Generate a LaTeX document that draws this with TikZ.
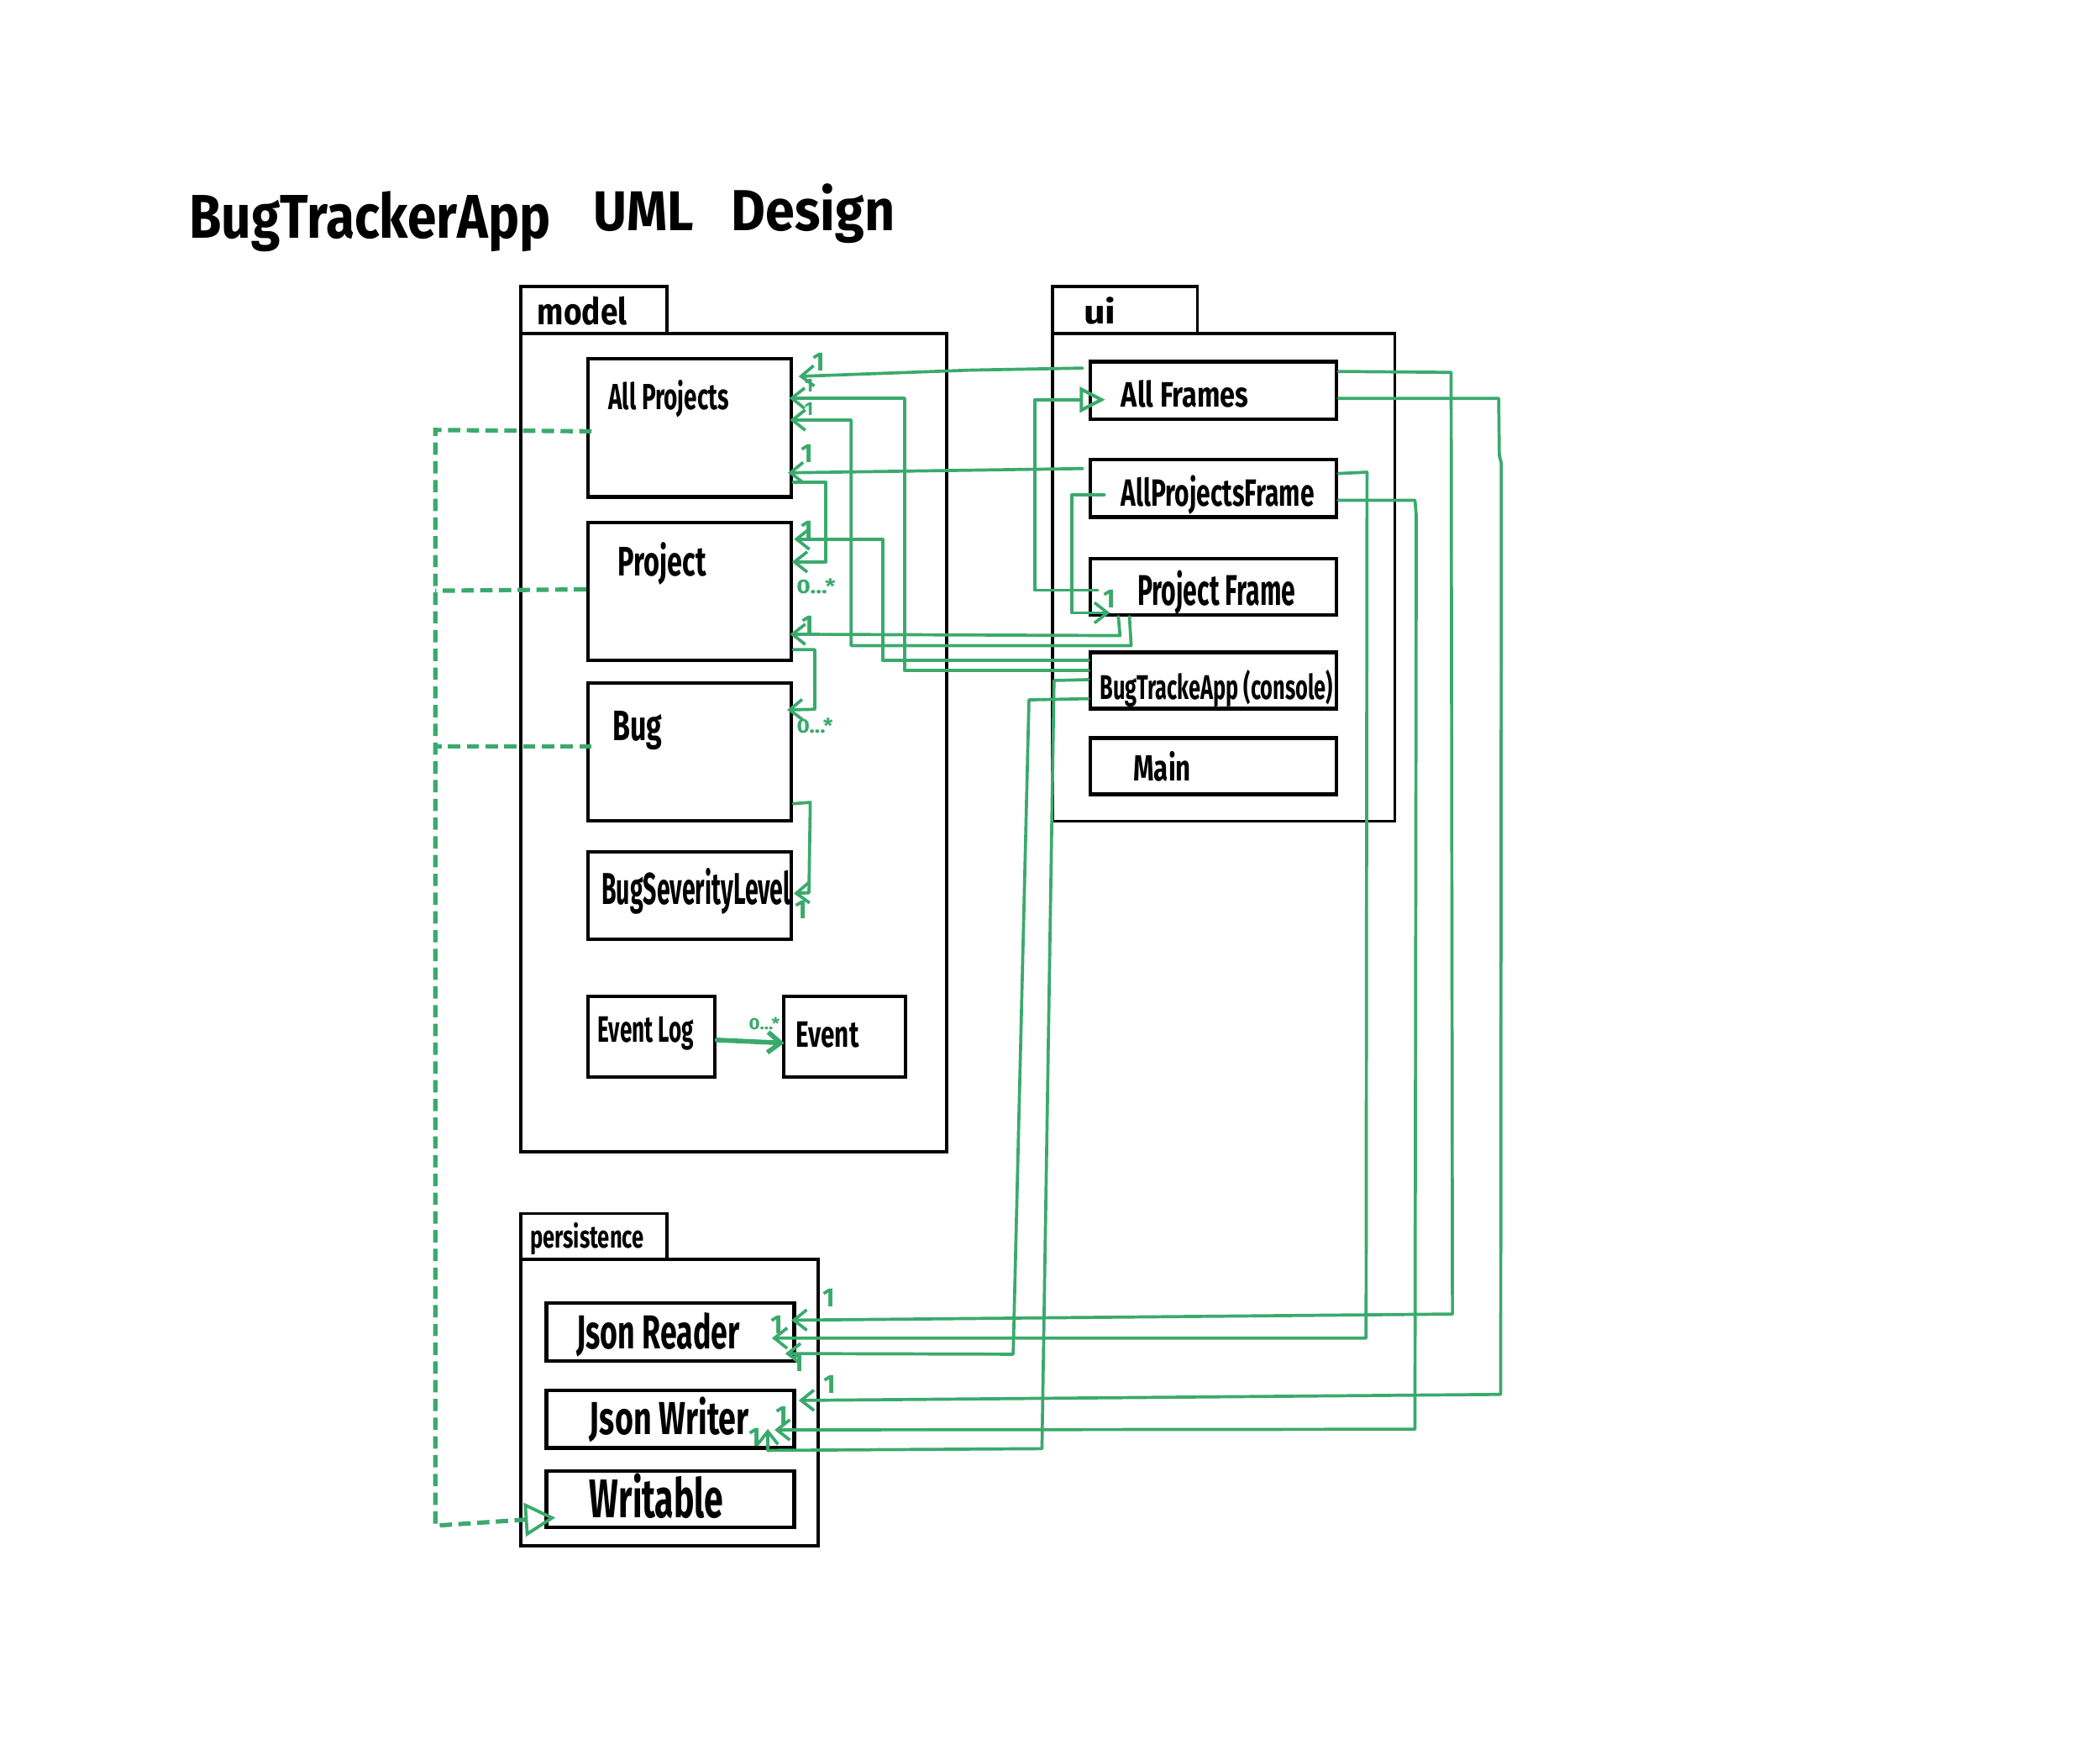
\documentclass[tikz,border=0pt]{standalone}
\usepackage{fontspec}
\setmainfont{Fira Sans}
\newfontfamily\handfont{Fira Sans}
\usetikzlibrary{arrows.meta,calc}
\definecolor{umlgreen}{RGB}{58,170,108}
\newlength{\ulen}\setlength{\ulen}{0.25mm}
\newcommand{\fitbox}[3]{\resizebox{#1\ulen}{#2\ulen}{#3}}
\tikzset{
  cls/.style 2 args={draw=black, line width=1.85pt, minimum width=#1*0.25mm, minimum height=#2*0.25mm, inner sep=0pt},
  pkg/.style={draw=black, line width=1.6pt},
  hand/.style={inner sep=0pt, anchor=base west, font=\handfont\bfseries, text=black},
  conn/.style={draw=umlgreen, line width=1.65pt, line cap=round, line join=round},
  barb/.style={-{Straight Barb[length=2.4mm, width=3.8mm, line width=1.65pt]}},
  dashgreen/.style={draw=umlgreen, line width=2.3pt, dash pattern=on 2.3mm off 1.2mm},
  mult/.style={text=umlgreen, inner sep=0pt, font=\handfont\bfseries\fontsize{14}{14}\selectfont},
  smallmult/.style={text=umlgreen, inner sep=0pt, font=\handfont\bfseries\fontsize{10}{10}\selectfont},
  many/.style={text=umlgreen, inner sep=0pt, anchor=base west, font=\handfont\bfseries},
}
\begin{document}
\begin{tikzpicture}[x=0.25mm, y=-0.25mm]
\fill[white] (0,0) rectangle (1568,1310);
\useasboundingbox (0,0) rectangle (1568,1310);

% title
\node[hand] (t1) at (141,178) {\fitbox{270}{35}{BugTrackerApp}};
\node[hand] (t2) at (443,172) {\fitbox{75}{29}{UML}};
\node[hand] (t3) at (546,172) {\fitbox{122}{35}{Design}};

% packages
\draw[pkg] (389,214) rectangle (498,249);
\draw[pkg] (389,249) rectangle (707,860);
\draw[pkg] (786,214) rectangle (894,249);
\draw[pkg] (786,249) rectangle (1041.5,613);
\draw[pkg] (389,906) rectangle (498,940);
\draw[pkg] (389,940) rectangle (611,1154);
\node[hand] (modellbl) at (401,242.5) {\fitbox{67}{21}{model}};
\node[hand] (uilbl) at (809,241.5) {\fitbox{24}{20}{ui}};
\node[hand] (perslbl) at (395.6,932) {\fitbox{85}{19}{persistence}};

% classes: model
\node[cls={152}{103}] (allprojects) at (515,319.5) {};
\node[cls={152}{103}] (project) at (515,441.5) {};
\node[cls={152}{103}] (bug) at (515,561.5) {};
\node[cls={152}{65}] (bsl) at (515,668.5) {};
\node[cls={95}{60}] (eventlog) at (486.5,774) {};
\node[cls={91}{60}] (event) at (630.5,774) {};
% classes: ui
\node[cls={184}{43}] (allframes) at (906,291.5) {};
\node[cls={184}{43}] (allprojectsframe) at (906,364.5) {};
\node[cls={184}{42}] (projectframe) at (906,438) {};
\node[cls={184}{42}] (bugtracke) at (906,508) {};
\node[cls={184}{42}] (main) at (906,572) {};
% classes: persistence
\node[cls={185}{43}] (jsonreader) at (500.5,994.5) {};
\node[cls={185}{43}] (jsonwriter) at (500.5,1059.5) {};
\node[cls={185}{42}] (writable) at (500.5,1119) {};

% class names
\node[hand] (lallprojects) at (454,306) {\fitbox{90}{22}{All Projects}};
\node[hand] (lproject) at (461,430) {\fitbox{66}{25}{Project}};
\node[hand] (lbug) at (457,553) {\fitbox{37}{22}{Bug}};
\node[hand] (lbsl) at (449,675) {\fitbox{141}{27}{BugSeverityLevel}};
\node[hand] (leventlog) at (446,778) {\fitbox{72}{19}{Event Log}};
\node[hand] (levent) at (594,782) {\fitbox{47}{19}{Event}};
\node[hand] (lallframes) at (837,304) {\fitbox{95}{20}{All Frames}};
\node[hand] (lallprojectsframe) at (837,378) {\fitbox{144}{23}{AllProjectsFrame}};
\node[hand] (lprojectframe) at (849,452) {\fitbox{118}{26}{Project Frame}};
\node[hand] (lbugtracke) at (821,522) {\fitbox{174}{22}{BugTrackeApp (console)}};
\node[hand] (lmain) at (846,583) {\fitbox{43}{22}{Main}};
\node[hand] (ljsonreader) at (430,1007) {\fitbox{122}{27}{Json Reader}};
\node[hand] (ljsonwriter) at (440,1071) {\fitbox{119}{28}{Json Writer}};
\node[hand] (lwritable) at (440,1133) {\fitbox{100}{33}{Writable}};

% implementation of Writable (dashed)
\draw[dashgreen, -{Triangle[open,length=5.75mm,width=6.25mm,line width=1.7pt]}]
  ($(allprojects.west|-0,322)+(4,0)$) -- (325,321) -- (325,1139) -- ($(writable.west|-0,1133)+(8,0)$);
\draw[dashgreen] (project.west|-0,440) -- (325,441);
\draw[dashgreen] ($(bug.west|-0,557)+(4,0)$) -- (325,557);

% associations in model / ui
\draw[conn,barb] ($(allframes.west|-0,274.8)+(-4.3,0)$) -- (725,276.3) -- ($(allprojects.east|-0,281)+(4,0)$);
\draw[conn,barb] (bugtracke.west|-0,500.4) -- (675.5,500.4) -- (675.5,297.3) -- ($(allprojects.east|-0,297.3)+(-3,0)$);
\draw[conn,barb] ($(projectframe.south west)+(30.6,0)$) -- (844.6,482) -- (635.5,482) -- (635.5,313.6) -- ($(allprojects.east|-0,313.6)+(-2.5,0)$);
\draw[conn,barb] ($(allprojectsframe.west|-0,349.8)+(-4.3,0)$) -- ($(allprojects.east|-0,353)+(-4,0)$);
\draw[conn,barb] (allprojects.east|-0,360) -- (616.7,360) -- (616.7,419.5) -- ($(project.east|-0,419.5)+(-1,0)$);
\draw[conn,barb] (bugtracke.west|-0,493) -- (659,493) -- (659,402.5) -- ($(project.east|-0,402.5)+(0.6,0)$);
\draw[conn,barb] ($(projectframe.south west)+(22.3,0)$) -- (836.3,474.5) -- ($(project.east|-0,473.5)+(-2.5,0)$);
\draw[conn,barb] (project.east|-0,485) -- (608.4,485) -- (608.4,529.5) -- ($(bug.east|-0,530)+(-4.6,0)$);
\draw[conn,barb] (bug.east|-0,600) -- (605,599) -- (604,666.5) -- ($(bsl.east|-0,667)+(0.4,0)$);
\draw[conn,line width=2.5pt,-{Straight Barb[length=2.4mm,width=3.8mm,line width=2.5pt]}] (eventlog.east|-0,776.4) -- ($(event.west|-0,778.7)+(2,0)$);
\draw[conn,-{Triangle[open,length=4.75mm,width=4.75mm,line width=1.8pt]}] ($(projectframe.west|-0,440.6)+(7,0)$) -- (772.5,440.6) -- (772.5,298.4) -- ($(allframes.west|-0,298.4)+(12.5,0)$);
\draw[conn,barb] ($(allprojectsframe.west|-0,369.5)+(11.8,0)$) -- (800.4,369.5) -- (800.4,457.5) -- ($(projectframe.west|-0,457.5)+(16,0)$);

% associations to persistence
\draw[conn,barb] (bugtracke.west|-0,521.6) -- (768.3,522.5) -- (756.5,1011) -- ($(jsonreader.east|-0,1010.5)+(-8,0)$);
\draw[conn,barb] (bugtracke.west|-0,507.4) -- (787,508) -- (778,1081.5) -- ($(jsonwriter.south east)+(-21,0.5)$) -- ($(jsonwriter.south east)+(-21,-15.5)$);
\draw[conn,barb] (allframes.east|-0,277.3) -- (1083.5,278) -- (1084.5,981) -- ($(jsonreader.east|-0,985.6)+(-3.4,0)$);
\draw[conn,barb] (allframes.east|-0,297.4) -- (1119,297.4) -- (1119.5,340) -- (1121,346) -- (1120.5,1041) -- ($(jsonwriter.east|-0,1045.5)+(2,0)$);
\draw[conn,barb] (allprojectsframe.east|-0,353.5) -- (1020.7,352.5) -- (1020,999) -- ($(jsonreader.east|-0,999)+(-18,0)$);
\draw[conn,barb] (allprojectsframe.east|-0,373.5) -- (1056.5,373.5) -- (1057.5,385) -- (1056.5,1067) -- ($(jsonwriter.east|-0,1067.5)+(-16,0)$);

% multiplicities
\node[mult] (m1) at (611.5,270.5) {1};
\node[smallmult] (m2) at (604,288) {1};
\node[smallmult] (m3) at (604,305.5) {1};
\node[mult] (m4) at (602.5,338.6) {1};
\node[mult] (m6) at (602.5,396) {1};
\node[mult] (m7) at (603,466.5) {1};
\node[mult] (m9) at (598,679) {1};
\node[mult] (m12) at (828.3,447) {1};
\node[mult] (m15) at (619,969) {1};
\node[mult] (m17) at (580,989) {1};
\node[mult] (m13) at (596,1017) {1};
\node[mult] (m16) at (619.5,1033.5) {1};
\node[mult] (m18) at (584,1057) {1};
\node[mult] (m14) at (564,1073) {1};
\node[many] (n5) at (594.6,443) {\fitbox{29}{11}{0...*}};
\node[many] (n8) at (594.7,547.5) {\fitbox{27}{11}{0...*}};
\node[many] (n10) at (559,768.5) {\fitbox{23}{9}{0...*}};
\end{tikzpicture}
\end{document}
